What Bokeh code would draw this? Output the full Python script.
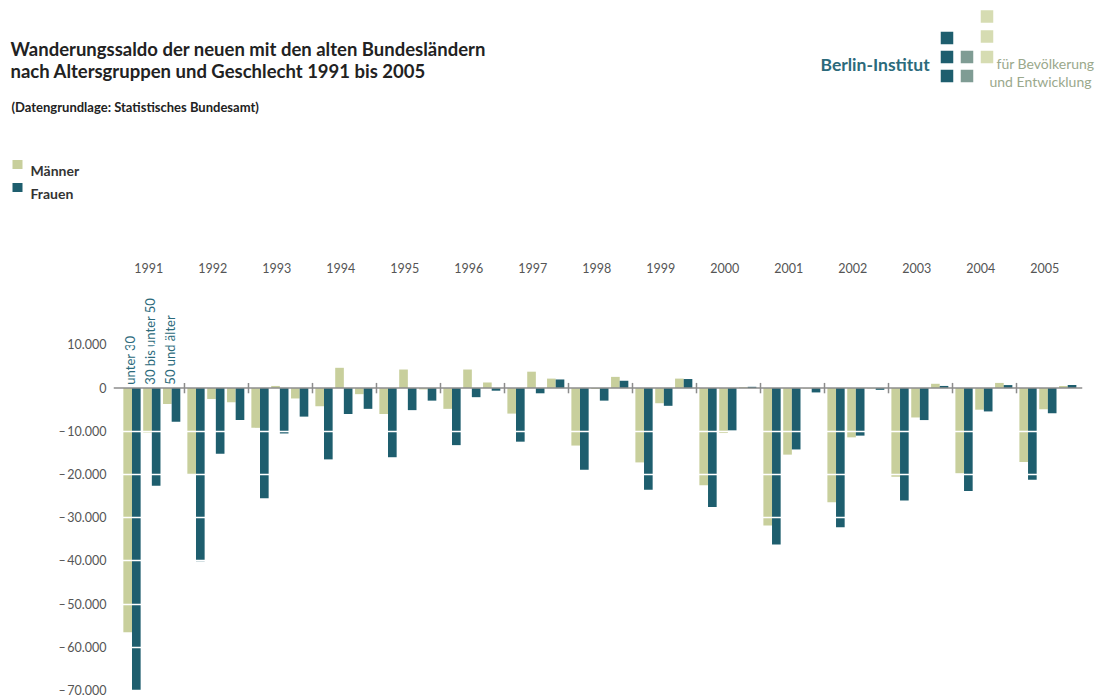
import math
from bokeh.plotting import figure
from bokeh.models import Range1d, FixedTicker, Span, ColumnDataSource
from bokeh.core.properties import value
from bokeh.embed import file_html
from bokeh.resources import INLINE

# ---------------- data ----------------
years = [1991, 1992, 1993, 1994, 1995, 1996, 1997, 1998, 1999, 2000, 2001, 2002, 2003, 2004, 2005]
age_groups = ["unter 30", "30 bis unter 50", "50 und älter"]
series_labels = ["Männer", "Frauen"]

maenner_u30 = [-56500, -20100, -9200, -4200, -6000, -4800, -5900, -13300, -17200, -22500, -31800, -26400, -20500, -19700, -17100]
frauen_u30 = [-69900, -40100, -25500, -16500, -16000, -13200, -12400, -18900, -23500, -27500, -36200, -32200, -26000, -23800, -21200]
maenner_30_50 = [-10300, -2500, 500, 4700, 4300, 4300, 3800, -200, -3500, -10400, -15400, -11400, -6800, -5000, -4900]
frauen_30_50 = [-22600, -15200, -10500, -6000, -5100, -2100, -1200, -2900, -4100, -9800, -14200, -11000, -7400, -5400, -5800]
maenner_50 = [-3700, -3300, -2400, -1400, -300, 1300, 2200, 2600, 2200, 200, -100, -100, 1000, 1200, 500]
frauen_50 = [-7800, -7400, -6600, -4800, -2900, -600, 2000, 1700, 2100, 300, -1000, -400, 500, 700, 700]

y_ticks = [10000, 0, -10000, -20000, -30000, -40000, -50000, -60000, -70000]
y_tick_labels = ["10.000", "0", "–\u200910.000", "–\u200920.000", "–\u200930.000", "–\u200940.000",
                 "–\u200950.000", "–\u200960.000", "–\u200970.000"]

title_lines = ["Wanderungssaldo der neuen mit den alten Bundesländern",
               "nach Altersgruppen und Geschlecht 1991 bis 2005"]
subtitle = "(Datengrundlage: Statistisches Bundesamt)"

# ---------------- style ----------------
C_M = "#c8cf9c"
C_F = "#1e5e6e"
C_TEAL_TXT = "#2b6a7b"
C_AXIS = "#8c8c8c"
C_LABEL = "#555555"
FONT = value("Lato")

W = 1103
H_HEAD = 248
H_CHART = 451

# ---------------- header figure ----------------
h = figure(width=W, height=H_HEAD, x_range=Range1d(0, W), y_range=Range1d(H_HEAD, 0),
           toolbar_location=None, output_backend="svg", min_border=0,
           x_axis_location=None, y_axis_location=None, outline_line_color=None)
h.grid.visible = False

h.text(x=[10, 10], y=[48, 70.5], text=title_lines, text_font=FONT, text_font_style="bold",
       text_font_size="18.5px", text_color="#222222", text_baseline="alphabetic")
h.text(x=[11], y=[106], text=[subtitle], text_font=FONT, text_font_style="bold",
       text_font_size="13px", text_color="#222222", text_baseline="alphabetic")

# legend
h.rect(x=[17, 17], y=[164, 187], width=10, height=9, fill_color=[C_M, C_F], line_color=None)
h.text(x=[30, 30], y=[169.5, 193], text=series_labels, text_font=FONT, text_font_style="bold",
       text_font_size="14px", text_color="#333333", text_baseline="alphabetic")

# logo
h.text(x=[820], y=[63.5], text=["Berlin-Institut"], text_font=FONT, text_font_style="bold",
       text_font_size="17.5px", text_color=C_TEAL_TXT, text_baseline="alphabetic")
h.text(x=[996, 989], y=[63, 80.5], text=["für Bevölkerung", "und Entwicklung"], text_font=FONT,
       text_font_size="14px", text_color="#9aa88c", text_baseline="alphabetic")
h.rect(x=[946.5, 946.5, 946.5], y=[37.5, 56.5, 75.5], width=12.5, height=12.5, fill_color=C_F, line_color=None)
h.rect(x=[966.5, 966.5], y=[56.5, 75.5], width=12.5, height=12.5, fill_color="#7f9c94", line_color=None)
h.rect(x=[986.5, 986.5, 986.5], y=[16, 36, 56.5], width=12.5, height=12.5, fill_color="#d6dcb2", line_color=None)

# ---------------- chart figure ----------------
p = figure(width=W, height=H_CHART, x_range=Range1d(-0.609, 14.531), y_range=Range1d(-70460, 32315),
           toolbar_location=None, output_backend="svg", x_axis_location=None,
           min_border_left=113, min_border_right=21, min_border_top=0, min_border_bottom=7,
           outline_line_color=None)
p.xgrid.visible = False

idx = list(range(len(years)))
offsets = [-0.32, -0.01, 0.30]
bw = 0.135
pairs = [(maenner_u30, frauen_u30), (maenner_30_50, frauen_30_50), (maenner_50, frauen_50)]

for off, (m_vals, f_vals) in zip(offsets, pairs):
    src_m = ColumnDataSource(dict(x=[i + off - bw / 2 for i in idx], top=m_vals))
    src_f = ColumnDataSource(dict(x=[i + off + bw / 2 for i in idx], top=f_vals))
    p.vbar(x="x", top="top", bottom=0, width=bw, source=src_m, fill_color=C_M, line_color=None)
    p.vbar(x="x", top="top", bottom=0, width=bw, source=src_f, fill_color=C_F, line_color=None)

# white grid lines over bars
p.ygrid.ticker = FixedTicker(ticks=[t for t in y_ticks if t != 0])
p.ygrid.grid_line_color = "white"
p.ygrid.grid_line_width = 1.5
p.ygrid.level = "overlay"

# zero line with year separators
p.add_layout(Span(location=0, dimension="width", line_color=C_AXIS, line_width=1.5))
sep_x = [i + 0.5 for i in idx[:-1]]
p.segment(x0=sep_x, y0=-1200, x1=sep_x, y1=1200, line_color=C_AXIS, line_width=1.5)

# y axis
p.yaxis.ticker = FixedTicker(ticks=y_ticks)
p.yaxis.major_label_overrides = {t: l for t, l in zip(y_ticks, y_tick_labels)}
p.yaxis.axis_line_color = None
p.yaxis.major_tick_line_color = None
p.yaxis.minor_tick_line_color = None
p.yaxis.major_tick_out = 0
p.yaxis.major_tick_in = 0
p.yaxis.major_label_standoff = 7
p.yaxis.major_label_text_font = "Lato"
p.yaxis.major_label_text_font_size = "12.5px"
p.yaxis.major_label_text_color = C_LABEL

# year labels
p.text(x=[i - 0.06 for i in idx], y=27900, text=[str(y) for y in years], text_font=FONT,
       text_font_size="12.5px", text_color=C_LABEL, text_align="center", text_baseline="middle")

# age group labels (first year)
p.text(x=[idx[0] + off - 0.03 for off in offsets], y=800, text=age_groups, angle=math.pi / 2,
       text_font=FONT, text_font_size="13px", text_color=C_TEAL_TXT,
       text_align="left", text_baseline="middle")

open("out.html", "w").write(file_html([h, p], INLINE))
